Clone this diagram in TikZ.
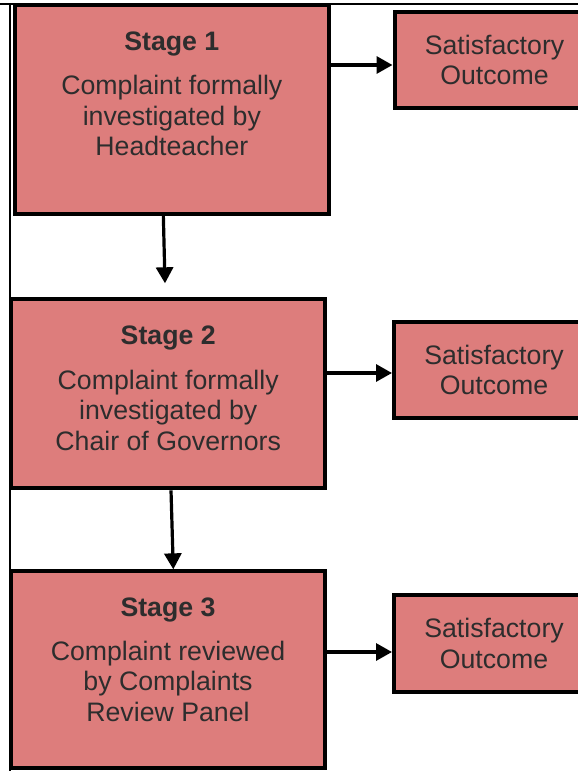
\documentclass[tikz,border=0pt]{standalone}
\usepackage{fontspec}
\setmainfont{Liberation Sans}
\usepackage{xcolor}
\usetikzlibrary{arrows.meta}
\usetikzlibrary{positioning}
\definecolor{stagefill}{RGB}{221,125,124}
\definecolor{inkgray}{RGB}{45,45,45}

\begin{document}
\begin{tikzpicture}[x=1pt,y=-1pt,
		stagebox/.style={draw=black, line width=4pt, fill=stagefill, inner sep=0pt},
		stagetext/.style={text=inkgray, align=center, inner sep=0pt, font=\fontsize{26.7}{30.5}\selectfont},
		flow/.style={line width=3.2pt, -{Triangle[length=16pt,width=17pt]}}]
					% page size
					\useasboundingbox (0,0) rectangle (578,771);
					\clip (0,0) rectangle (578,771);
					% table rules
					\draw[line width=1.7pt] (0,4) -- (578,4);
					\draw[line width=1.7pt] (10,4) -- (10,771);
					% stage boxes
					\node[stagebox, minimum width=314.3pt, minimum height=209.3pt] (stage1) at (171.85,109.35) {};
					\node[stagebox, minimum width=313.7pt, minimum height=189.6pt] (stage2) at (168.2,393.5) {};
					\node[stagebox, minimum width=313.4pt, minimum height=196.7pt] (stage3) at (168,669.7) {};
					\node[stagetext, below=29pt of stage1.north] (text1) {\textbf{Stage 1}\\[13.5pt]Complaint formally\\investigated by\\Headteacher};
					\node[stagetext, below=28.5pt of stage2.north] (text2) {\textbf{Stage 2}\\[14.5pt]Complaint formally\\investigated by\\Chair of Governors};
					\node[stagetext, below=28pt of stage3.north] (text3) {\textbf{Stage 3}\\[13.5pt]Complaint reviewed\\by Complaints\\Review Panel};
					% outcome boxes
					\node[stagebox, stagetext, minimum width=200pt, minimum height=96.3pt] (ok1) at (494.5,60.15) {Satisfactory\\Outcome};
					\node[stagebox, stagetext, minimum width=200pt, minimum height=96.3pt] (ok2) at (494,370.15) {Satisfactory\\Outcome};
					\node[stagebox, stagetext, minimum width=200pt, minimum height=96.7pt] (ok3) at (494,643.65) {Satisfactory\\Outcome};
					% add arrows
					\coordinate (out1) at (0,65);
					\coordinate (out2) at (0,373);
					\coordinate (out3) at (0,652);
					\draw[flow] (stage1.east |- out1) -- (ok1.west |- out1);
					\draw[flow] (stage2.east |- out2) -- (ok2.west |- out2);
					\draw[flow] (stage3.east |- out3) -- (ok3.west |- out3);
					\coordinate (tip1) at (165,283.3);
					\draw[flow] ([xshift=-8.5pt]stage1.south) -- (tip1);
					\draw[flow] ([xshift=2.8pt]stage2.south) -- ([xshift=5.3pt]stage3.north);
				\end{tikzpicture}
\end{document}
